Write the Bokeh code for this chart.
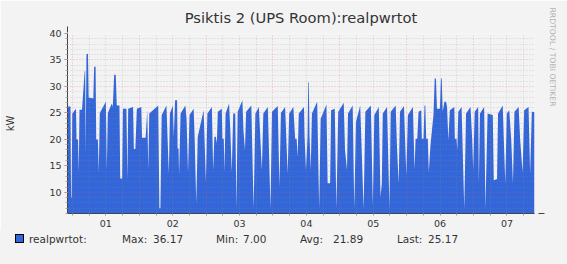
from bokeh.plotting import figure
from bokeh.layouts import column
from bokeh.models import Range1d, FixedTicker, Title, Arrow, NormalHead, Div
from bokeh.embed import file_html
from bokeh.resources import INLINE

# hours relative to midnight at the start of day "01"
HOURS = [-1.78, -0.71, -0.50, -0.32, -0.07, 1.28, 1.46, 2.00, 2.25, 2.53, 3.42, 4.39, 4.57, 4.74, 5.03, 5.57, 5.82, 7.49, 7.78, 8.31,
         8.53, 9.13, 9.45, 9.81, 11.99, 12.34, 12.70, 14.13, 14.48, 14.98, 15.55, 15.91, 16.87, 17.16, 17.84, 18.12, 19.37, 19.73, 20.01, 21.76,
         22.05, 22.58, 23.12, 24.72, 24.97, 26.26, 26.86, 27.22, 27.58, 30.79, 31.22, 31.57, 32.04, 33.75, 34.11, 34.61, 35.00, 36.03, 36.39, 36.85,
         37.57, 37.75, 38.10, 38.28, 38.82, 40.53, 40.96, 41.49, 42.03, 43.52, 43.88, 44.45, 44.99, 47.09, 47.91, 48.45, 50.05, 50.52, 50.95, 51.48,
         51.84, 52.19, 53.62, 53.83, 54.33, 54.58, 54.98, 56.23, 56.65, 57.19, 57.72, 58.44, 58.87, 59.33, 61.01, 61.40, 61.93, 62.36, 64.22, 65.04,
         65.68, 66.93, 67.43, 68.00, 68.53, 70.14, 71.10, 71.64, 73.71, 74.31, 74.85, 76.35, 77.27, 77.81, 79.31, 79.95, 80.49, 80.84, 81.27, 83.13,
         83.34, 83.84, 84.41, 84.66, 84.87, 85.12, 85.55, 85.98, 87.87, 88.58, 89.12, 91.19, 91.62, 92.51, 92.86, 94.18, 94.76, 95.43, 97.40, 97.86,
         98.57, 98.93, 100.61, 101.18, 101.78, 103.32, 104.53, 105.17, 107.14, 107.85, 108.38, 109.99, 110.60, 111.06, 111.42, 112.95, 113.81, 114.27, 116.05, 116.52,
         117.12, 117.59, 119.02, 119.87, 120.44, 122.23, 122.83, 123.19, 123.80, 124.26, 125.22, 125.44, 126.04, 126.40, 126.69, 127.01, 127.58, 127.94, 128.54, 129.61,
         130.07, 130.50, 130.86, 131.93, 132.29, 132.57, 132.93, 133.54, 134.14, 134.50, 134.96, 135.50, 137.10, 137.28, 137.89, 138.17, 138.53, 139.71, 140.67, 141.31,
         142.92, 143.53, 143.88, 144.42, 145.67, 145.91, 146.31, 147.81, 148.27, 149.05, 150.91, 151.27, 152.44, 152.80, 154.48, 155.40, 155.94, 156.83, 157.55, 158.15,
         158.69, 160.19, 160.76, 161.61, 162.18, 163.75, 164.32, 164.93, 165.89]

KW = [26.2, 26.2, 9.0, 9.0, 24.9, 25.8, 20.0, 20.0, 13.8, 25.6, 25.6, 32.9, 32.9, 17.3, 36.1, 36.17, 27.9, 27.7, 33.7, 33.7,
      20.0, 20.0, 13.8, 25.0, 27.1, 14.2, 25.0, 26.8, 26.1, 32.2, 32.2, 26.4, 26.4, 12.6, 12.6, 25.8, 25.8, 12.4, 25.8, 26.1,
      18.2, 18.2, 25.8, 26.1, 20.3, 20.3, 25.5, 14.2, 24.9, 26.4, 7.0, 7.0, 24.6, 26.4, 20.8, 13.5, 24.9, 26.4, 20.5, 27.4,
      27.4, 18.3, 18.3, 13.2, 24.9, 26.4, 24.0, 13.8, 24.6, 25.8, 20.1, 7.9, 20.5, 25.5, 12.0, 24.9, 26.1, 14.2, 20.5, 20.5,
      19.2, 25.2, 25.8, 20.1, 20.1, 13.8, 24.9, 26.8, 22.0, 13.8, 24.9, 24.9, 6.9, 25.2, 27.4, 21.7, 18.0, 25.2, 26.4, 6.9,
      24.9, 26.1, 20.5, 14.2, 24.9, 26.1, 6.9, 25.2, 26.3, 11.0, 25.0, 26.1, 13.5, 24.9, 26.1, 20.1, 20.1, 16.7, 24.9, 26.1,
      20.5, 14.2, 20.5, 30.8, 30.8, 20.5, 14.2, 24.9, 27.1, 6.9, 23.9, 26.6, 11.7, 11.7, 25.5, 25.8, 6.9, 25.2, 26.9, 18.0,
      14.2, 24.9, 26.4, 6.9, 23.3, 26.4, 6.9, 25.2, 26.4, 7.5, 24.6, 26.1, 9.1, 11.6, 24.9, 26.1, 6.9, 25.2, 26.4, 18.6,
      11.6, 25.2, 26.3, 13.2, 24.6, 26.1, 14.2, 20.1, 20.1, 25.2, 25.5, 20.1, 20.1, 26.4, 26.4, 20.1, 20.1, 13.8, 18.9, 24.6,
      31.5, 31.5, 25.8, 25.8, 31.5, 31.5, 25.2, 27.1, 27.1, 26.1, 19.8, 25.5, 26.1, 20.1, 20.1, 18.0, 25.2, 26.1, 6.9, 24.9,
      26.1, 20.0, 14.2, 25.2, 26.1, 11.6, 24.9, 26.1, 6.9, 24.9, 24.6, 12.3, 12.5, 24.9, 26.4, 11.6, 24.9, 25.5, 19.8, 11.6,
      25.2, 26.1, 19.8, 13.8, 25.5, 26.1, 13.5, 25.2, 25.17]

DAY_LABELS = ["01", "02", "03", "04", "05", "06", "07"]
Y_TICKS = [10, 15, 20, 25, 30, 35, 40]
Y_MIN, Y_MAX = 6, 40
TITLE = "Psiktis 2 (UPS Room):realpwrtot"
SERIES = "realpwrtot:"
STAT_NAMES = ["Max:", "Min:", "Avg:", "Last:"]
STAT_VALUES = ["36.17", "7.00", "21.89", "25.17"]
Y_LABEL = "kW"
WATERMARK = "RRDTOOL / TOBI OETIKER"

BG = "#F3F3F3"
BLUE = "#3366D8"
TXT = "#333333"
FONT = "DejaVu Sans"

W = 567
MAIN_H, LEG_H = 230, 34
L, R, T, B = 67, 30, 33, 17

fig = figure(width=W, height=MAIN_H, output_backend="svg", toolbar_location=None,
             x_range=Range1d(HOURS[0], HOURS[-1]), y_range=Range1d(Y_MIN, Y_MAX),
             min_border_left=L, min_border_right=R, min_border_top=T, min_border_bottom=B)
fig.background_fill_color = BG
fig.border_fill_color = BG
fig.outline_line_color = None

fig.varea(x=HOURS, y1=0, y2=KW, fill_color=BLUE)

# title
fig.title.text = TITLE
fig.title.align = "center"
fig.title.vertical_align = "top"
fig.title.text_font = FONT
fig.title.text_font_size = "14.7px"
fig.title.text_font_style = "normal"
fig.title.text_color = TXT
fig.title.standoff = 12

# watermark on the right
fig.add_layout(Title(text=WATERMARK, align="left", vertical_align="top", offset=-26, standoff=22,
                     text_font=FONT, text_font_size="7.7px", text_font_style="normal",
                     text_color="#b4b4b4"), "right")

n_days = len(DAY_LABELS)
noons = [12 + 24 * i for i in range(n_days)]
midnights = [24 * i for i in range(n_days)]
six_h = [6 * i for i in range(0, 4 * n_days) if i % 4 != 0]

xa = fig.xaxis[0]
xa.ticker = FixedTicker(ticks=noons, minor_ticks=[6 * i for i in range(0, 4 * n_days)])
xa.major_label_overrides = {t: lab for t, lab in zip(noons, DAY_LABELS)}
xa.major_tick_line_color = None
xa.major_tick_out = 0
xa.major_tick_in = 0
xa.minor_tick_line_color = "#999999"
xa.minor_tick_in = 0
xa.minor_tick_out = 2
xa.axis_line_color = "#444444"
xa.major_label_standoff = 4
xa.major_label_text_font = FONT
xa.major_label_text_font_size = "9.5px"
xa.major_label_text_color = TXT

ya = fig.yaxis[0]
ya.ticker = FixedTicker(ticks=Y_TICKS, minor_ticks=list(range(Y_MIN, Y_MAX + 1)))
ya.major_tick_line_color = "#c07070"
ya.major_tick_in = 0
ya.major_tick_out = 3
ya.minor_tick_line_color = "#aaaaaa"
ya.minor_tick_in = 0
ya.minor_tick_out = 2
ya.axis_line_color = "#444444"
ya.major_label_standoff = 3
ya.major_label_text_font = FONT
ya.major_label_text_font_size = "9.5px"
ya.major_label_text_color = TXT
ya.axis_label = Y_LABEL
ya.axis_label_standoff = 30
ya.axis_label_text_font = FONT
ya.axis_label_text_font_style = "normal"
ya.axis_label_text_font_size = "10px"
ya.axis_label_text_color = TXT

xg = fig.xgrid[0]
xg.ticker = FixedTicker(ticks=midnights, minor_ticks=six_h)
yg = fig.ygrid[0]
yg.ticker = FixedTicker(ticks=Y_TICKS, minor_ticks=[v for v in range(Y_MIN, Y_MAX) if v % 5 != 0])
for g in (xg, yg):
    g.level = "overlay"
    g.grid_line_color = "#e06060"
    g.grid_line_alpha = 0.4
    g.grid_line_dash = "1 2"
    g.minor_grid_line_color = "#909090"
    g.minor_grid_line_alpha = 0.35
    g.minor_grid_line_dash = "1 2"

# axis arrows
fig.add_layout(Arrow(end=NormalHead(size=6, fill_color="#3a2a2a", line_color="#3a2a2a"),
                     x_start=L, y_start=T + 2, x_end=L, y_end=T - 7,
                     start_units="canvas", end_units="canvas", line_color="#444444"))
fig.add_layout(Arrow(end=NormalHead(size=6, fill_color="#3a2a2a", line_color="#3a2a2a"),
                     x_start=W - R - 2, y_start=MAIN_H - B, x_end=W - R + 7, y_end=MAIN_H - B,
                     start_units="canvas", end_units="canvas", line_color="#444444"))

# legend row (HTML strip under the plot)
def span(left, text):
    return (f'<span style="position:absolute;left:{left}px;top:3px;white-space:pre;'
            f'line-height:normal;">{text}</span>')

items = [span(29, SERIES)]
for name, val, x1, x2 in zip(STAT_NAMES, STAT_VALUES, [122, 216, 300, 397], [153, 243, 333, 428]):
    items.append(span(x1, name))
    items.append(span(x2, val))
swatch = (f'<span style="position:absolute;left:15px;top:4px;width:9px;height:9px;box-sizing:border-box;'
          f'background:{BLUE};border:1px solid #000;"></span>')
html = (f'<div style="position:relative;width:{W}px;height:{LEG_H}px;margin:0;padding:0;background:{BG};'
        f'font-family:\'{FONT}\';font-size:10.5px;color:{TXT};">' + swatch + "".join(items) + '</div>')
leg = Div(text=html, width=W, height=LEG_H, margin=0,
          styles={"background-color": BG, "margin": "0", "padding": "0"})

p = column(fig, leg, spacing=0)
open("out.html", "w").write(file_html(p, INLINE))
